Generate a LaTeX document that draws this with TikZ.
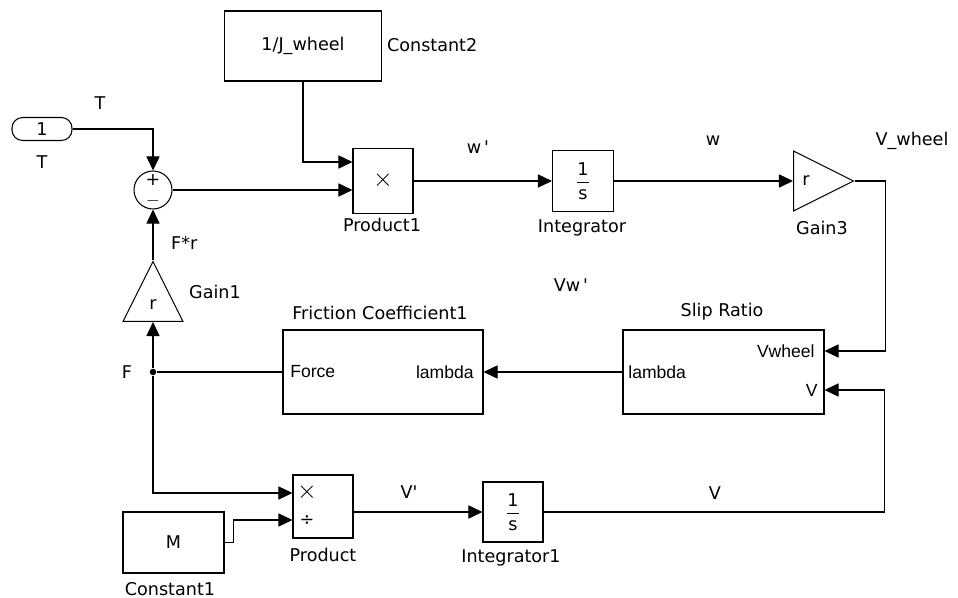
\documentclass[tikz,border=0pt]{standalone}
\usepackage{amsmath}
\usepackage{fontspec}
\setmainfont{DejaVu Sans}
\newfontfamily\portfont{Liberation Sans}
\usepackage{tikz}
\usetikzlibrary{positioning,arrows.meta,calc,shapes.geometric}

\begin{document}
\begin{tikzpicture}[x=0.02cm, y=-0.02cm, font=\fontsize{10}{12}\selectfont,
  blk/.style={draw, line width=0.6pt, inner sep=0pt},
  gain/.style={draw, line width=0.6pt, isosceles triangle, isosceles triangle stretches,
    minimum width=1.2cm, minimum height=1.2cm, inner sep=0pt},
  sumc/.style={draw, circle, line width=0.6pt, minimum size=0.76cm, inner sep=0pt},
  wire/.style={line width=0.6pt},
  sig/.style={wire, -{Triangle[length=8pt,width=7.5pt]}},
  port/.style={font=\portfont\fontsize{10}{12}\selectfont, inner sep=0pt},
  op/.style={inner sep=0pt, font=\fontsize{15}{15}\selectfont}]
\useasboundingbox (0,0) rectangle (958,598);
% top row
\node[blk, rounded corners=6pt, minimum width=1.2cm, minimum height=0.46cm] (in1) at (42,129) {1};
\node (in1name) at (42,162) {T};
\node[blk, minimum width=3.14cm, minimum height=1.4cm] (const2) at (303,46) {1/J\_wheel};
\node[anchor=west, inner sep=1pt] (const2name) at (385,45) {Constant2};
\node[sumc] (sum) at (153,190) {};
\node[inner sep=0pt] (sumplus) at (153,180) {+};
\node[inner sep=0pt] (summinus) at (153,201) {$-$};
\node[blk, minimum width=1.2cm, minimum height=1.3cm] (prod1) at (383,181) {};
\node[op] (prod1mul) at (383,180) {$\times$};
\node (prod1name) at (382,225) {Product1};
\node[blk, minimum width=1.22cm, minimum height=1.22cm] (integ) at (583,181) {$\dfrac{\textrm{1}}{\textrm{s}}$};
\node (integname) at (582,228) {Integrator};
\node[gain, shape border rotate=0, anchor=west] (gain3) at (793,181) {};
\node[inner sep=0pt] (gain3r) at (806,181) {r};
\node (gain3name) at (822,228) {Gain3};
% middle row
\node[gain, shape border rotate=90, anchor=south] (gain1) at (153,322) {};
\node[inner sep=0pt] (gain1r) at (153,305) {r};
\node (gain1name) at (215,292) {Gain1};
\node[blk, minimum width=4.0cm, minimum height=1.68cm] (fric) at (383,372) {};
\node (fricname) at (380,313) {Friction Coefficient1};
\node[port, anchor=west] (fricforce) at (290,372) {Force};
\node[port, anchor=east] (friclam) at (474,372) {lambda};
\node[blk, minimum width=4.02cm, minimum height=1.68cm] (slip) at (723.5,372) {};
\node (slipname) at (722,312) {Slip Ratio};
\node[port, anchor=west] (sliplam) at (628,372) {lambda};
\node[port, anchor=east] (slipvw) at (815,351) {Vwheel};
\node[port, anchor=east] (slipv) at (818,390) {V};
\node[circle, fill, inner sep=1.3pt] (jF) at (153,372) {};
% bottom row
\node[blk, minimum width=1.2cm, minimum height=1.26cm] (prod) at (323,506.5) {};
\node[op] (prodmul) at (307,492) {$\times$};
\node[inner sep=0pt] (proddiv) at (307,521) {÷};
\node (prodname) at (323,555) {Product};
\node[blk, minimum width=2.02cm, minimum height=1.22cm] (const1) at (173.5,542.5) {M};
\node (const1name) at (170,589) {Constant1};
\node[blk, minimum width=1.2cm, minimum height=1.2cm] (integ1) at (513,512) {$\dfrac{\textrm{1}}{\textrm{s}}$};
\node (integ1name) at (511,558) {Integrator1};
% signal names
\node (lblT) at (100,103) {T};
\node (lblw1) at (478,147) {w\,\textquotesingle};
\node (lblw) at (713,141) {w};
\node (lblvw) at (912,141) {V\_wheel};
\node (lblvw1) at (571,285) {Vw\,\textquotesingle};
\node[anchor=west] (lblfr) at (165,243) {F*r};
\node (lblF) at (127,372) {F};
\node (lblv1) at (409,492) {V\textquotesingle};
\node (lblv) at (715,493) {V};
% lines
\draw[sig] (in1.east) -| (sum.north);
\draw[sig] (const2.south) |- ([yshift=0.38cm]prod1.west);
\draw[sig] (sum.east) -- (sum.east -| prod1.west);
\draw[sig] (prod1.east) -- (integ.west);
\draw[sig] (integ.east) -- (gain3.west);
\draw[sig] (gain3.apex) -- ++(31,0) |- ([yshift=0.42cm]slip.east);
\draw[sig] (slip.west) -- (fric.east);
\draw[wire] (fric.west) -- (jF);
\draw[sig] (jF) -- (gain1.south);
\draw[sig] (gain1.apex) -- (sum.south);
\draw[sig] (jF) |- ([yshift=0.27cm]prod.west);
\draw[sig] (const1.east) -- ++(9,0) |- ([yshift=-0.27cm]prod.west);
\draw[sig] (prod.east |- integ1.west) -- (integ1.west);
\draw[sig] (integ1.east) -- ++(341,0) |- ([yshift=-0.36cm]slip.east);
\end{tikzpicture}
\end{document}
